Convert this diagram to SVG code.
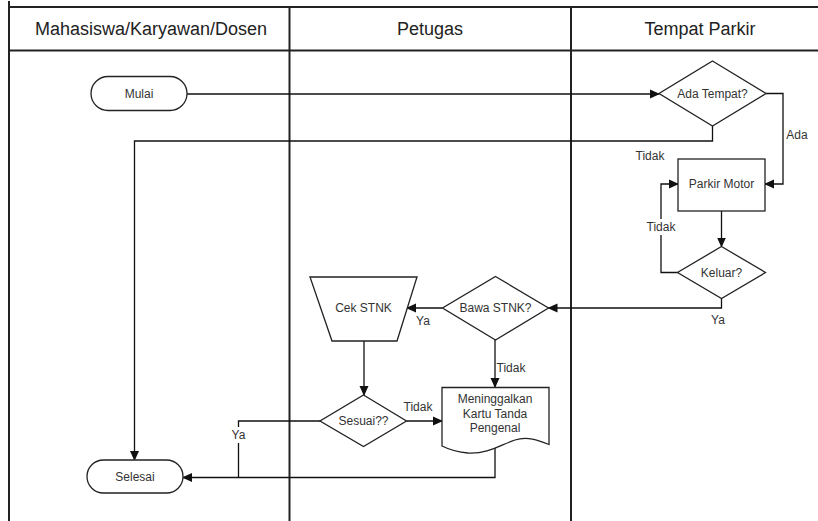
<svg xmlns="http://www.w3.org/2000/svg" width="818" height="521" viewBox="0 0 818 521">
<style>
.lane{stroke:#222;stroke-width:2;fill:none}
.node{fill:#fff;stroke:#222;stroke-width:1.3}
.t{font-family:"Liberation Sans",Arial,sans-serif;font-size:12px;fill:#333;text-anchor:middle;dominant-baseline:central}
.h{font-family:"Liberation Sans",Arial,sans-serif;font-size:18px;fill:#222;text-anchor:middle;dominant-baseline:central}
.c{stroke:#111;stroke-width:1.3;fill:none}
.lbl{font-family:"Liberation Sans",Arial,sans-serif;font-size:12px;fill:#333;text-anchor:middle;dominant-baseline:central}
</style>
<defs>
<marker id="arr" markerWidth="10" markerHeight="10" refX="9" refY="5" orient="auto" markerUnits="userSpaceOnUse">
<path d="M0,0.5 L10,5 L0,9.5 Z" fill="#111"/>
</marker>
</defs>
<rect width="818" height="521" fill="#fff"/>
<g id="swimlanes">
<line class="lane" x1="9" y1="1" x2="9" y2="521"/>
<line class="lane" x1="9" y1="7" x2="818" y2="7"/>
<line class="lane" x1="9" y1="50.5" x2="818" y2="50.5"/>
<line class="lane" x1="289.5" y1="7" x2="289.5" y2="521"/>
<line class="lane" x1="571" y1="7" x2="571" y2="521"/>
<text class="h" x="151" y="29">Mahasiswa/Karyawan/Dosen</text>
<text class="h" x="430" y="29">Petugas</text>
<text class="h" x="700" y="29">Tempat Parkir</text>
</g>
<g id="connectors">
<path class="c" d="M187,94 L659,94" marker-end="url(#arr)"/>
<path class="c" d="M712.5,126 L712.5,141 L134.5,141 L134.5,460" marker-end="url(#arr)"/>
<path class="c" d="M766,93.5 L783,93.5 L783,184 L765,184" marker-end="url(#arr)"/>
<path class="c" d="M721.5,211 L721.5,246.5" marker-end="url(#arr)"/>
<path class="c" d="M677.5,272.5 L661,272.5 L661,184 L678,184" marker-end="url(#arr)"/>
<path class="c" d="M721.5,298.5 L721.5,308 L548.5,308" marker-end="url(#arr)"/>
<path class="c" d="M442.5,308 L407,308" marker-end="url(#arr)"/>
<path class="c" d="M364,341 L364,395" marker-end="url(#arr)"/>
<path class="c" d="M495,340 L495,387" marker-end="url(#arr)"/>
<path class="c" d="M406.5,421 L442,421" marker-end="url(#arr)"/>
<path class="c" d="M495,448 L495,477.5 L183,477.5" marker-end="url(#arr)"/>
<path class="c" d="M320,421 L238.5,421 L238.5,477.5"/>
<rect x="643" y="219" width="36" height="16" fill="#fff"/>
<rect x="229" y="427" width="19" height="16" fill="#fff"/>
<text class="lbl" x="650" y="156">Tidak</text>
<text class="lbl" x="797" y="135">Ada</text>
<text class="lbl" x="661" y="227">Tidak</text>
<text class="lbl" x="718" y="320">Ya</text>
<text class="lbl" x="423" y="321">Ya</text>
<text class="lbl" x="511" y="368">Tidak</text>
<text class="lbl" x="418" y="407">Tidak</text>
<text class="lbl" x="238.5" y="435">Ya</text>
</g>
<g id="mulai">
<rect class="node" x="91" y="76.5" width="96" height="34" rx="17"/>
<text class="t" x="139" y="93.5">Mulai</text>
</g>
<g id="ada-tempat">
<path class="node" d="M712.5,61 L766,93.5 L712.5,126 L659,93.5 Z"/>
<text class="t" x="712.5" y="93.5">Ada Tempat?</text>
</g>
<g id="parkir-motor">
<rect class="node" x="678" y="159" width="87" height="52"/>
<text class="t" x="721.5" y="184">Parkir Motor</text>
</g>
<g id="keluar">
<path class="node" d="M721.5,246.5 L765.5,272.5 L721.5,298.5 L677.5,272.5 Z"/>
<text class="t" x="721.5" y="272.5">Keluar?</text>
</g>
<g id="bawa-stnk">
<path class="node" d="M495.5,276.5 L548.5,308 L495.5,340 L442.5,308 Z"/>
<text class="t" x="495.5" y="308">Bawa STNK?</text>
</g>
<g id="cek-stnk">
<path class="node" d="M310,277 L417,277 L397,341 L332,341 Z"/>
<text class="t" x="363.5" y="308">Cek STNK</text>
</g>
<g id="sesuai">
<path class="node" d="M363.5,395 L406.5,421 L363.5,446.5 L320,421 Z"/>
<text class="t" x="363.5" y="421">Sesuai??</text>
</g>
<g id="meninggalkan">
<path class="node" d="M442,387.5 L549,387.5 L549,444.5 C538,440 527,436 515,440 C500,445 488,454 468,453 C456,452 448,449 442,446 Z"/>
<text class="t" x="495" y="398.5">Meninggalkan</text>
<text class="t" x="495" y="413.5">Kartu Tanda</text>
<text class="t" x="495" y="427.5">Pengenal</text>
</g>
<g id="selesai">
<rect class="node" x="87" y="460" width="96" height="33" rx="16.5"/>
<text class="t" x="135" y="476.5">Selesai</text>
</g>
</svg>
